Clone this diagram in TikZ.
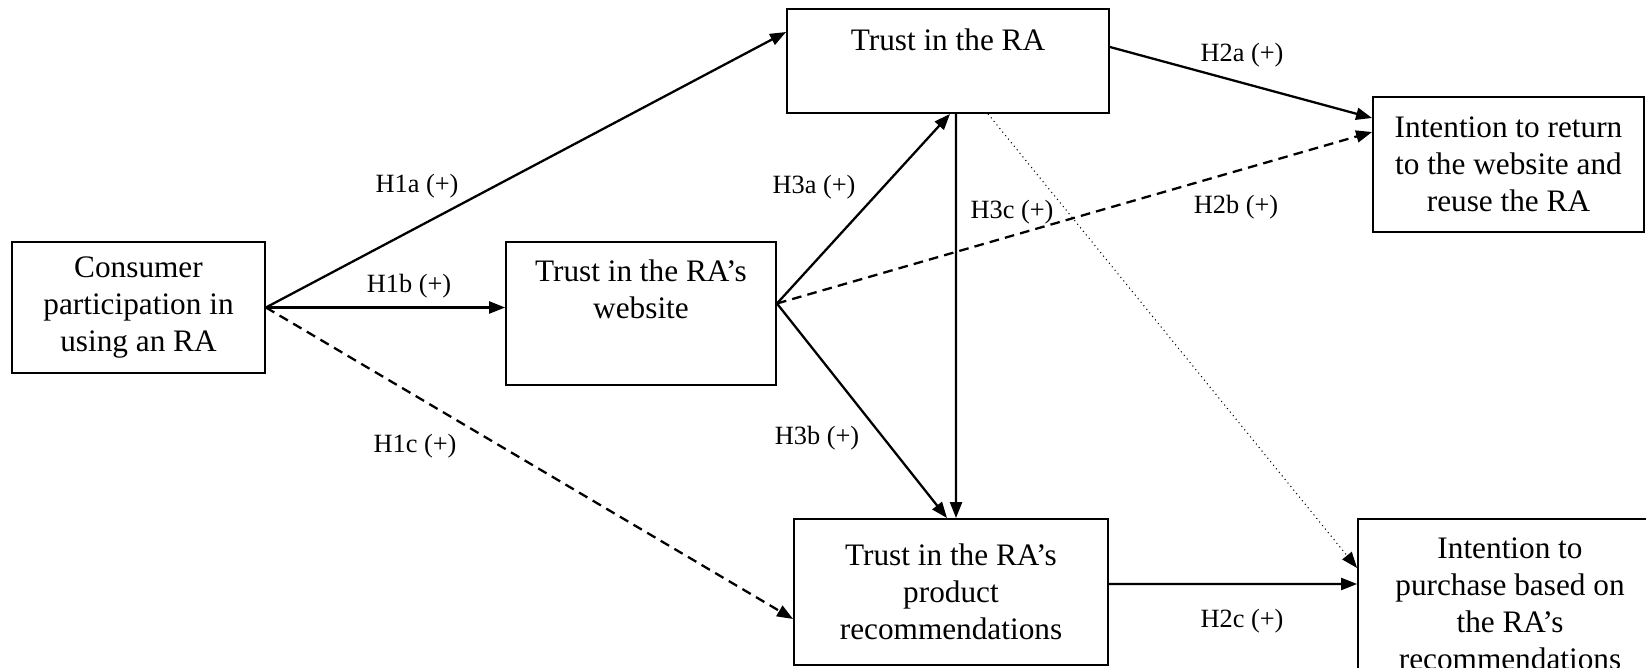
\documentclass[tikz,border=0pt]{standalone}
\usepackage{fontspec}
\setmainfont{Liberation Serif}
\usetikzlibrary{arrows.meta}

\begin{document}
\begin{tikzpicture}[x = 0.02cm, y = -0.02cm,
    box/.style = {draw, line width = 1.1pt, align = center, inner sep = 0pt,
        font = \fontsize{17.8}{21}\selectfont},
    hyp/.style = {font = \fontsize{15}{18}\selectfont},
    link/.style = {-{Triangle[length = 0.32cm, width = 0.24cm]}, line width = 1.3pt},
    dashlink/.style = {link, dash pattern = on 5.5pt off 3.5pt}]
    \clip (0, 0) rectangle (1646, 668);

    \node[box, minimum width = 5.06cm, minimum height = 2.62cm] (con) at (138.5, 307.5)
        {Consumer\\participation in\\using an RA};
    \node[box, minimum width = 6.44cm, minimum height = 2.08cm] (ra) at (948, 61)
        {Trust in the RA\\[3pt]\mbox{}};
    \node[box, minimum width = 5.4cm, minimum height = 2.86cm] (web) at (641, 313.5)
        {Trust in the RA's\\website\\[7pt]\mbox{}};
    \node[box, minimum width = 6.28cm, minimum height = 2.92cm] (pro) at (951, 592)
        {Trust in the RA's\\product\\recommendations};
    \node[box, minimum width = 5.42cm, minimum height = 2.7cm] (ret) at (1508.5, 164.5)
        {Intention to return\\to the website and\\reuse the RA};
    \node[box, minimum width = 6.08cm, minimum height = 3.38cm] (pur) at (1510, 603.5)
        {Intention to\\purchase based on\\the RA's\\recommendations};

    \coordinate (webout) at ([yshift = 0.2cm]web.east);

    % consumer participation
    \draw[link] (con.east) -- ([yshift = 0.58cm]ra.west);
    \draw[link] (con.east) -- (con.east -| web.west);
    \draw[dashlink] (con.east) -- ([yshift = -0.54cm]pro.west);

    % website trust
    \draw[link] (webout) -- ([xshift = 0.04cm]ra.south);
    \draw[link] (webout) -- ([xshift = -0.08cm]pro.north);
    \draw[dashlink] (webout) -- ([yshift = 0.65cm]ret.west);

    % RA trust
    \draw[link] ([xshift = 0.16cm]ra.south) -- ([xshift = 0.1cm]pro.north);
    \draw[-{Triangle[length = 0.32cm, width = 0.24cm]}, line width = 0.6pt, dotted]
        ([xshift = 0.8cm]ra.south) -- ([yshift = 0.71cm]pur.west);
    \draw[link] ([yshift = 0.28cm]ra.east) -- ([yshift = 0.93cm]ret.west);
    \draw[link] ([yshift = 0.16cm]pro.east) -- ([yshift = 0.39cm]pur.west);

    \node[hyp] (h1a) at (417, 186) {H1a (+)};
    \node[hyp] (h1b) at (409, 286) {H1b (+)};
    \node[hyp] (h1c) at (415, 446) {H1c (+)};
    \node[hyp] (h3a) at (814, 187) {H3a (+)};
    \node[hyp] (h3b) at (817, 438) {H3b (+)};
    \node[hyp] (h3c) at (1012, 212) {H3c (+)};
    \node[hyp] (h2a) at (1242, 55) {H2a (+)};
    \node[hyp] (h2b) at (1236, 207) {H2b (+)};
    \node[hyp] (h2c) at (1242, 621) {H2c (+)};
\end{tikzpicture}
\end{document}
